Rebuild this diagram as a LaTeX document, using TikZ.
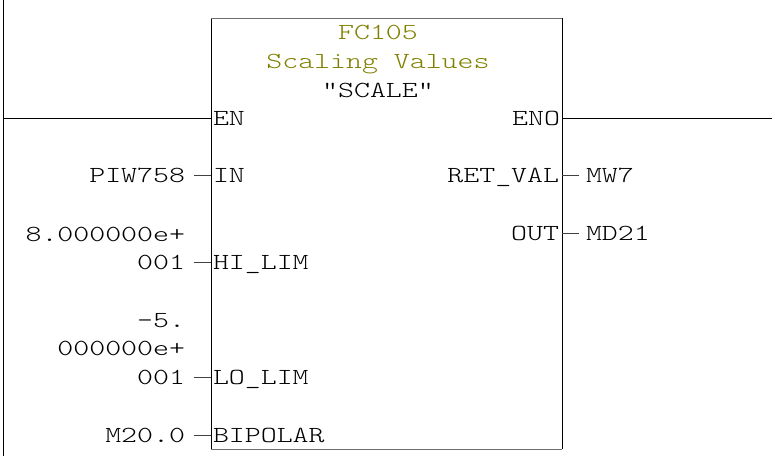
\documentclass[tikz,border=0pt]{standalone}
\usepackage{fontspec}
\newfontfamily\plcfont{Latin Modern Mono Light}[FakeStretch=1.32]
\definecolor{titleolive}{RGB}{128,128,0}
\definecolor{edgegray}{RGB}{110,110,110}
\begin{document}
\begin{tikzpicture}[x=1pt,y=-1pt,
  every node/.style={inner sep=0pt,outer sep=0pt,font=\plcfont\fontsize{23}{28}\selectfont},
  txt/.style={text height=14pt,text depth=0pt},
  rail/.style={line width=1pt,black},
  wire/.style={line width=0.9pt,black},
  stub/.style={line width=0.8pt,black!75},
  title/.style={txt,text=titleolive}]
\useasboundingbox (0,0) rectangle (775,456);

% power rail
\coordinate (railtop) at (3,0);
\coordinate (railbot) at (3,456);
\draw[rail] (railtop) -- (railbot);

% function block frame
\coordinate (bnw) at (211,18);
\coordinate (bne) at (562,18);
\coordinate (bsw) at (211,449);
\coordinate (bse) at (562,449);
\draw[line width=1pt,black] (bnw) -- (bsw);
\draw[line width=1pt,black] (bne) -- (bse);
\draw[line width=1pt,edgegray] (bnw) -- (bne);
\draw[line width=1pt,edgegray] (bsw) -- (bse);

% block header
\node[title] (fcnum) at (378,32) {FC105};
\node[title] (fcname) at (378,61) {Scaling Values};
\node[txt] (fcsym) at (378,90) {"SCALE"};

% pin anchor points on the frame
\coordinate (pEN) at (211,118);
\coordinate (pENO) at (562,118);
\coordinate (pIN) at (211,175);
\coordinate (pHI) at (211,262);
\coordinate (pLO) at (211,377);
\coordinate (pBI) at (211,435);
\coordinate (pRET) at (562,175);
\coordinate (pOUT) at (562,233);

% pin names
\node[txt,anchor=west] (nEN) at (213,118) {EN};
\node[txt,anchor=east] (nENO) at (560,118) {ENO};
\node[txt,anchor=west] (nIN) at (213,175) {IN};
\node[txt,anchor=west] (nHI) at (213,262) {HI\_LIM};
\node[txt,anchor=west] (nLO) at (213,377) {LO\_LIM};
\node[txt,anchor=west] (nBI) at (213,435) {BIPOLAR};
\node[txt,anchor=east] (nRET) at (559,175) {RET\_VAL};
\node[txt,anchor=east] (nOUT) at (559,233) {OUT};

% enable / enable-out wires
\coordinate (enl) at (3,118);
\coordinate (enor) at (772,118);
\draw[wire] (enl) -- (pEN);
\draw[wire] (pENO) -- (enor);

% actual parameters, inputs
\node[txt,anchor=east] (aIN) at (185,175) {PIW758};
\node[txt,anchor=east] (aHI1) at (185,234) {8.000000e+};
\node[txt,anchor=east] (aHI) at (185,262) {001};
\node[txt,anchor=east] (aLO1) at (185,320) {-5.};
\node[txt,anchor=east] (aLO2) at (185,348) {000000e+};
\node[txt,anchor=east] (aLO) at (185,377) {001};
\node[txt,anchor=east] (aBI) at (185,435) {M20.0};

% actual parameters, outputs
\node[txt,anchor=west] (aRET) at (586,175) {MW7};
\node[txt,anchor=west] (aOUT) at (586,233) {MD21};

% parameter stubs
\draw[stub] ([xshift=9pt]aIN.east) -- (pIN);
\draw[stub] ([xshift=9pt]aHI.east) -- (pHI);
\draw[stub] ([xshift=9pt]aLO.east) -- (pLO);
\draw[stub] ([xshift=9pt]aBI.east) -- (pBI);
\draw[stub] (pRET) -- ([xshift=-7pt]aRET.west);
\draw[stub] (pOUT) -- ([xshift=-7pt]aOUT.west);
\end{tikzpicture}
\end{document}
